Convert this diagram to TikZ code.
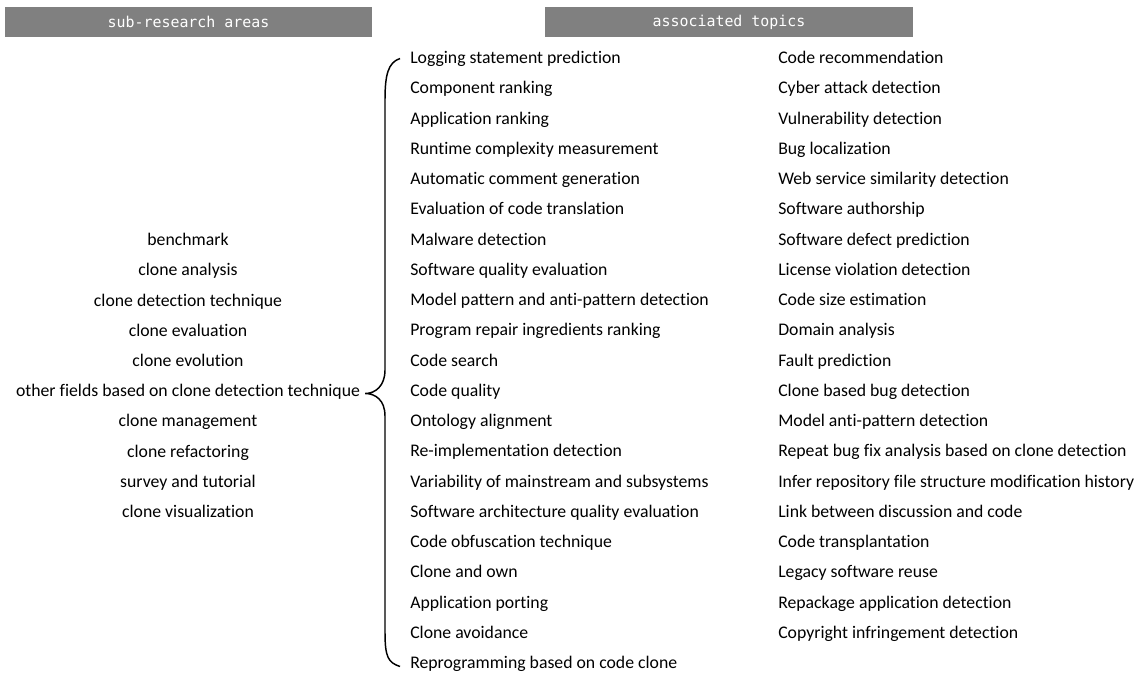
\documentclass[tikz,border=0pt]{standalone}
\usepackage{fontspec}
\setmainfont{Carlito}[Ligatures=NoCommon]
\newfontfamily\hdrfont{DejaVu Sans Mono}
\usepackage{xcolor}
\definecolor{hdrgray}{HTML}{808080}

\begin{document}
\begin{tikzpicture}[x=0.75pt,y=-0.75pt,
  hdr/.style={rectangle, fill=hdrgray, text=white, font=\hdrfont\fontsize{11.2}{13}\selectfont, minimum height=30*0.75pt, inner sep=0pt},
  area/.style={font=\fontsize{13.3}{16}\selectfont, inner sep=0pt, text height=0.68em, text depth=0.2em, anchor=center},
  topic/.style={font=\fontsize{13.3}{16}\selectfont, inner sep=0pt, text height=0.68em, text depth=0.2em, anchor=west}]
\useasboundingbox (0,0) rectangle (1147,675);
\node[hdr, minimum width=367*0.75pt] (hdrA) at (188.5,22) {sub-research areas};
\node[hdr, minimum width=368*0.75pt] (hdrB) at (729,22) {associated topics};
\foreach \t [count=\i] in {benchmark, clone analysis, clone detection technique, clone evaluation, clone evolution, other fields based on clone detection technique, clone management, clone refactoring, survey and tutorial, clone visualization}
  \node[area] (area\i) at (188,{242.5+(\i-1)*30.2}) {\t};
\foreach \t [count=\i] in {Logging statement prediction, Component ranking, Application ranking, Runtime complexity measurement, Automatic comment generation, Evaluation of code translation, Malware detection, Software quality evaluation, Model pattern and anti-pattern detection, Program repair ingredients ranking, Code search, Code quality, Ontology alignment, Re-implementation detection, Variability of mainstream and subsystems, Software architecture quality evaluation, Code obfuscation technique, Clone and own, Application porting, Clone avoidance, Reprogramming based on code clone}
  \node[topic] (mid\i) at (410,{60.5+(\i-1)*30.25}) {\t};
\foreach \t [count=\i] in {Code recommendation, Cyber attack detection, Vulnerability detection, Bug localization, Web service similarity detection, Software authorship, Software defect prediction, License violation detection, Code size estimation, Domain analysis, Fault prediction, Clone based bug detection, Model anti-pattern detection, Repeat bug fix analysis based on clone detection, Infer repository file structure modification history, Link between discussion and code, Code transplantation, Legacy software reuse, Repackage application detection, Copyright infringement detection}
  \node[topic] (side\i) at (778,{60.5+(\i-1)*30.25}) {\t};
\coordinate (tip) at ([xshift=5*0.75pt]area6.east);
\coordinate (top) at ([xshift=-10*0.75pt, yshift=2*0.75pt]mid1.west);
\coordinate (bot) at ([xshift=-10*0.75pt, yshift=-1*0.75pt]mid21.west);
\draw[line width=1.1pt] (top) .. controls +(-12,4) and +(0,-25) .. ([xshift=-15*0.75pt]top |- 0,100)
  -- ([xshift=-15*0.75pt]top |- 0,370) .. controls +(0,16) and +(10,0) .. (tip)
  .. controls +(10,0) and +(0,-16) .. ([xshift=-15*0.75pt]top |- 0,416)
  -- ([xshift=-15*0.75pt]top |- 0,632) .. controls +(0,25) and +(-12,-4) .. (bot);
\end{tikzpicture}
\end{document}
